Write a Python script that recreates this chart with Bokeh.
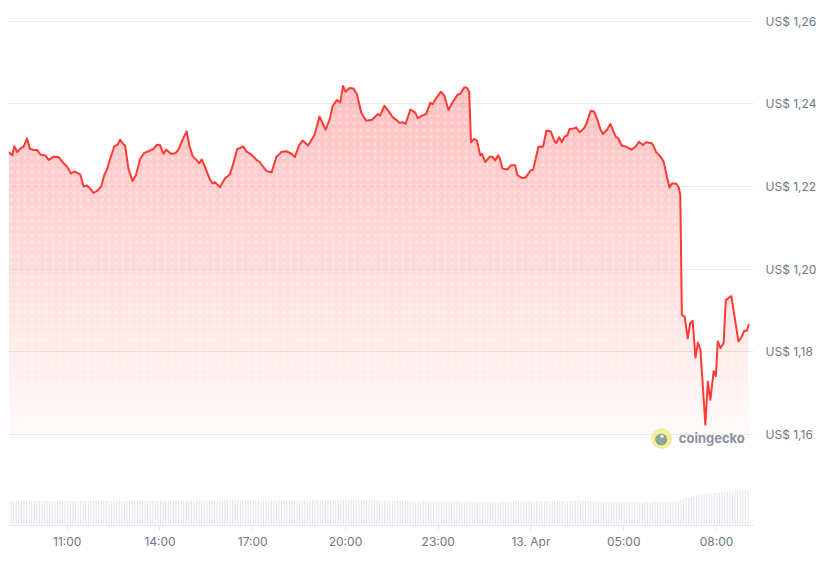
import numpy as np
from bokeh.plotting import figure
from bokeh.models import FixedTicker, CustomJSTickFormatter, Range1d, Label
from bokeh.embed import file_html
from bokeh.resources import INLINE

# ---------------- data ----------------
# time in hours since 12 Apr 00:00 ; price in USD
times = [
    9.11, 9.22, 9.29, 9.38, 9.49, 9.59, 9.70, 9.79, 9.92, 10.03,
    10.13, 10.29, 10.40, 10.56, 10.72, 10.88, 10.99, 11.12, 11.23, 11.34,
    11.42, 11.53, 11.64, 11.75, 11.85, 11.98, 12.10, 12.20, 12.28, 12.39,
    12.52, 12.63, 12.71, 12.80, 12.87, 12.98, 13.11, 13.22, 13.36, 13.49,
    13.63, 13.79, 13.90, 14.00, 14.11, 14.20, 14.35, 14.49, 14.59, 14.74,
    14.86, 14.95, 15.06, 15.19, 15.27, 15.35, 15.45, 15.62, 15.70, 15.78,
    15.94, 16.10, 16.26, 16.37, 16.50, 16.58, 16.69, 16.80, 16.96, 17.12,
    17.23, 17.34, 17.45, 17.61, 17.77, 17.93, 18.09, 18.25, 18.36, 18.50,
    18.61, 18.79, 19.00, 19.16, 19.36, 19.49, 19.59, 19.72, 19.83, 19.92,
    20.00, 20.13, 20.26, 20.37, 20.51, 20.67, 20.86, 21.05, 21.12, 21.26,
    21.42, 21.53, 21.64, 21.75, 21.85, 21.94, 22.10, 22.25, 22.34, 22.48,
    22.61, 22.74, 22.82, 22.91, 23.09, 23.20, 23.33, 23.46, 23.63, 23.70,
    23.84, 23.92, 24.00, 24.06, 24.16, 24.25, 24.36, 24.41, 24.52, 24.67,
    24.76, 24.84, 24.94, 24.99, 25.08, 25.24, 25.35, 25.49, 25.56, 25.72,
    25.83, 25.99, 26.07, 26.24, 26.39, 26.50, 26.64, 26.75, 26.82, 26.91,
    27.00, 27.09, 27.17, 27.25, 27.39, 27.46, 27.57, 27.71, 27.79, 27.93,
    28.04, 28.14, 28.25, 28.33, 28.46, 28.57, 28.74, 28.82, 28.93, 29.08,
    29.25, 29.38, 29.49, 29.62, 29.72, 29.92, 30.05, 30.19, 30.29, 30.40,
    30.48, 30.56, 30.69, 30.78, 30.83, 30.88, 30.97, 31.07, 31.15, 31.23,
    31.32, 31.40, 31.48, 31.64, 31.72, 31.80, 31.91, 31.98, 32.04, 32.13,
    32.23, 32.30, 32.48, 32.71, 32.82, 32.90, 32.98, 33.05,
]
prices = [
    1.2283, 1.2275, 1.2297, 1.2283, 1.2292, 1.2296, 1.2316, 1.2291, 1.2288, 1.2288,
    1.2277, 1.2275, 1.2264, 1.2272, 1.2271, 1.2256, 1.2248, 1.2231, 1.2236, 1.2232,
    1.2229, 1.2200, 1.2202, 1.2194, 1.2184, 1.2190, 1.2200, 1.2228, 1.2240, 1.2267,
    1.2297, 1.2301, 1.2313, 1.2303, 1.2299, 1.2243, 1.2213, 1.2227, 1.2267, 1.2281,
    1.2285, 1.2291, 1.2301, 1.2300, 1.2279, 1.2289, 1.2279, 1.2280, 1.2288, 1.2315,
    1.2333, 1.2299, 1.2272, 1.2263, 1.2256, 1.2265, 1.2248, 1.2216, 1.2207, 1.2210,
    1.2198, 1.2219, 1.2229, 1.2255, 1.2291, 1.2292, 1.2297, 1.2284, 1.2277, 1.2264,
    1.2259, 1.2247, 1.2237, 1.2234, 1.2272, 1.2283, 1.2285, 1.2279, 1.2271, 1.2299,
    1.2311, 1.2299, 1.2325, 1.2369, 1.2337, 1.2363, 1.2395, 1.2409, 1.2403, 1.2443,
    1.2429, 1.2438, 1.2437, 1.2423, 1.2378, 1.2359, 1.2361, 1.2375, 1.2371, 1.2395,
    1.2379, 1.2367, 1.2361, 1.2354, 1.2355, 1.2351, 1.2386, 1.2379, 1.2365, 1.2371,
    1.2375, 1.2402, 1.2399, 1.2411, 1.2429, 1.2419, 1.2385, 1.2403, 1.2422, 1.2423,
    1.2439, 1.2439, 1.2429, 1.2307, 1.2315, 1.2311, 1.2275, 1.2279, 1.2259, 1.2272,
    1.2271, 1.2263, 1.2275, 1.2268, 1.2243, 1.2241, 1.2251, 1.2251, 1.2227, 1.2220,
    1.2222, 1.2239, 1.2240, 1.2296, 1.2296, 1.2335, 1.2333, 1.2311, 1.2305, 1.2319,
    1.2307, 1.2321, 1.2323, 1.2339, 1.2340, 1.2343, 1.2331, 1.2340, 1.2351, 1.2383,
    1.2381, 1.2363, 1.2337, 1.2327, 1.2337, 1.2351, 1.2320, 1.2317, 1.2299, 1.2296,
    1.2289, 1.2296, 1.2308, 1.2300, 1.2307, 1.2304, 1.2283, 1.2272, 1.2260, 1.2222,
    1.2197, 1.2207, 1.2207, 1.2198, 1.2178, 1.1889, 1.1885, 1.1833, 1.1869, 1.1875,
    1.1786, 1.1822, 1.1805, 1.1624, 1.1728, 1.1684, 1.1753, 1.1741, 1.1825, 1.1809,
    1.1821, 1.1925, 1.1935, 1.1825, 1.1837, 1.1851, 1.1851, 1.1867,
]
# 5-minute volume bars (relative units), starting 09:06
vol_start = 9.1
vol_step = 1.0 / 12.0
volume = [
    245, 246, 244, 247, 245, 246, 248, 245, 244, 246, 247, 245,
    246, 245, 247, 248, 246, 245, 244, 246, 247, 245, 246, 248,
    247, 246, 245, 247, 248, 246, 245, 247, 246, 245, 247, 246,
    246, 248, 247, 245, 246, 247, 249, 248, 246, 245, 247, 248,
    248, 247, 246, 248, 249, 247, 246, 248, 247, 246, 248, 249,
    249, 248, 247, 249, 250, 248, 247, 249, 250, 248, 247, 249,
    250, 249, 248, 250, 251, 249, 250, 251, 249, 248, 250, 251,
    252, 253, 251, 254, 255, 253, 252, 254, 255, 253, 252, 254,
    252, 251, 250, 252, 251, 250, 249, 251, 250, 249, 251, 250,
    250, 249, 251, 250, 249, 248, 250, 251, 249, 250, 251, 250,
    252, 253, 254, 252, 253, 255, 254, 253, 252, 254, 255, 253,
    253, 252, 254, 253, 252, 251, 253, 252, 251, 250, 252, 251,
    249, 248, 247, 249, 248, 247, 246, 248, 247, 246, 245, 247,
    242, 241, 240, 242, 241, 240, 239, 241, 240, 239, 241, 240,
    240, 239, 238, 240, 239, 238, 237, 239, 238, 237, 239, 238,
    238, 237, 236, 238, 237, 236, 235, 237, 236, 235, 237, 236,
    237, 236, 238, 237, 239, 240, 242, 243, 242, 241, 243, 244,
    243, 244, 242, 243, 245, 244, 243, 242, 244, 243, 242, 244,
    244, 245, 246, 247, 248, 249, 250, 248, 246, 244, 242, 240,
    238, 237, 236, 238, 237, 236, 235, 237, 236, 235, 237, 236,
    236, 235, 234, 236, 235, 234, 233, 235, 234, 233, 235, 234,
    234, 233, 232, 234, 233, 235, 236, 240, 248, 256, 264, 272,
    280, 287, 294, 300, 306, 310, 314, 318, 320, 323, 325, 327,
    330, 333, 336, 338, 341, 344, 348, 352, 355, 352, 350, 350,
]
price_ticks = [1.16, 1.18, 1.20, 1.22, 1.24, 1.26]
time_ticks = [11, 14, 17, 20, 23, 26, 29, 32]
time_labels = ["11:00", "14:00", "17:00", "20:00", "23:00", "13. Apr", "05:00", "08:00"]

# ---------------- styles ----------------
RED = "#ff3a33"
TXT = "#6e7888"
FONT = "Inter"

t = np.array(times)
pr = np.array(prices)
vol_times = vol_start + np.arange(len(volume)) * vol_step

p = figure(width=819, height=553, output_backend="svg", toolbar_location=None,
           x_range=Range1d(9.1, 33.197), y_range=Range1d(1.137993, 1.262056),
           y_axis_location="right",
           min_border_left=8, min_border_right=64, min_border_top=12, min_border_bottom=28)
p.outline_line_color = None
p.background_fill_color = "white"
p.border_fill_color = "white"
p.extra_y_ranges = {"vol": Range1d(0, 5130)}

# volume bars
p.vbar(x=vol_times, top=volume, bottom=0, width=vol_step * 0.45,
       y_range_name="vol", fill_color="#e4e7ec", line_color=None)

# gradient fill under the price line (stacked translucent layers)
p_bot = 1.159
p_top = float(pr.max())
N = 60
A_bot, A_top = 0.02, 0.26
edges = np.linspace(p_bot, p_top, N + 1)
targets = A_bot + (A_top - A_bot) * (np.arange(N) + 0.5) / N
prev = 0.0
for k in range(N):
    a = 1 - (1 - targets[k]) / (1 - prev)
    prev = targets[k]
    lo = edges[k]
    p.varea(x=t, y1=np.full_like(pr, lo), y2=np.maximum(pr, lo),
            fill_color=RED, fill_alpha=float(a))

# subtle dotted texture
p.varea(x=t, y1=np.full_like(pr, p_bot), y2=pr, fill_alpha=0,
        hatch_pattern="dot", hatch_color="white", hatch_alpha=0.3,
        hatch_scale=7, hatch_weight=1.2)

p.line(t, pr, line_color=RED, line_width=2, line_join="round")

# coingecko watermark
p.scatter(x=[30.23], y=[1.15900], size=21, fill_color="#f7eca6", line_color=None)
p.scatter(x=[30.213], y=[1.15880], size=12, fill_color="#8fa68f", line_color=None)
p.scatter(x=[30.238], y=[1.15960], size=3, fill_color="white", line_color=None)
p.add_layout(Label(x=30.78, y=1.15927, text="coingecko", text_font=FONT,
                   text_font_size="13px", text_font_style="bold",
                   text_color="#8a929e", text_baseline="middle"))

# axes
p.xaxis.ticker = FixedTicker(ticks=time_ticks)
p.xaxis.formatter = CustomJSTickFormatter(args=dict(tk=time_ticks, lb=time_labels),
    code="const i = tk.indexOf(tick); return i >= 0 ? lb[i] : '';")
p.xaxis.axis_line_color = "#e6e8ec"
p.xaxis.major_tick_line_color = "#e6e8ec"
p.xaxis.major_tick_out = 5
p.xaxis.major_tick_in = 0
p.xaxis.minor_tick_line_color = None
p.xaxis.major_label_text_color = TXT
p.xaxis.major_label_text_font = FONT
p.xaxis.major_label_text_font_size = "12px"
p.xaxis.major_label_standoff = 3

p.yaxis.ticker = FixedTicker(ticks=price_ticks)
p.yaxis.formatter = CustomJSTickFormatter(
    code="return 'US$ ' + tick.toFixed(2).replace('.', ',');")
p.yaxis.axis_line_color = None
p.yaxis.major_tick_line_color = None
p.yaxis.minor_tick_line_color = None
p.yaxis.major_label_text_color = TXT
p.yaxis.major_label_text_font = FONT
p.yaxis.major_label_text_font_size = "12px"
p.yaxis.major_label_standoff = 6

p.xgrid.grid_line_color = None
p.ygrid.ticker = FixedTicker(ticks=price_ticks)
p.ygrid.grid_line_color = "#ececec"
p.ygrid.grid_line_width = 1

open("out.html", "w").write(file_html(p, INLINE))
